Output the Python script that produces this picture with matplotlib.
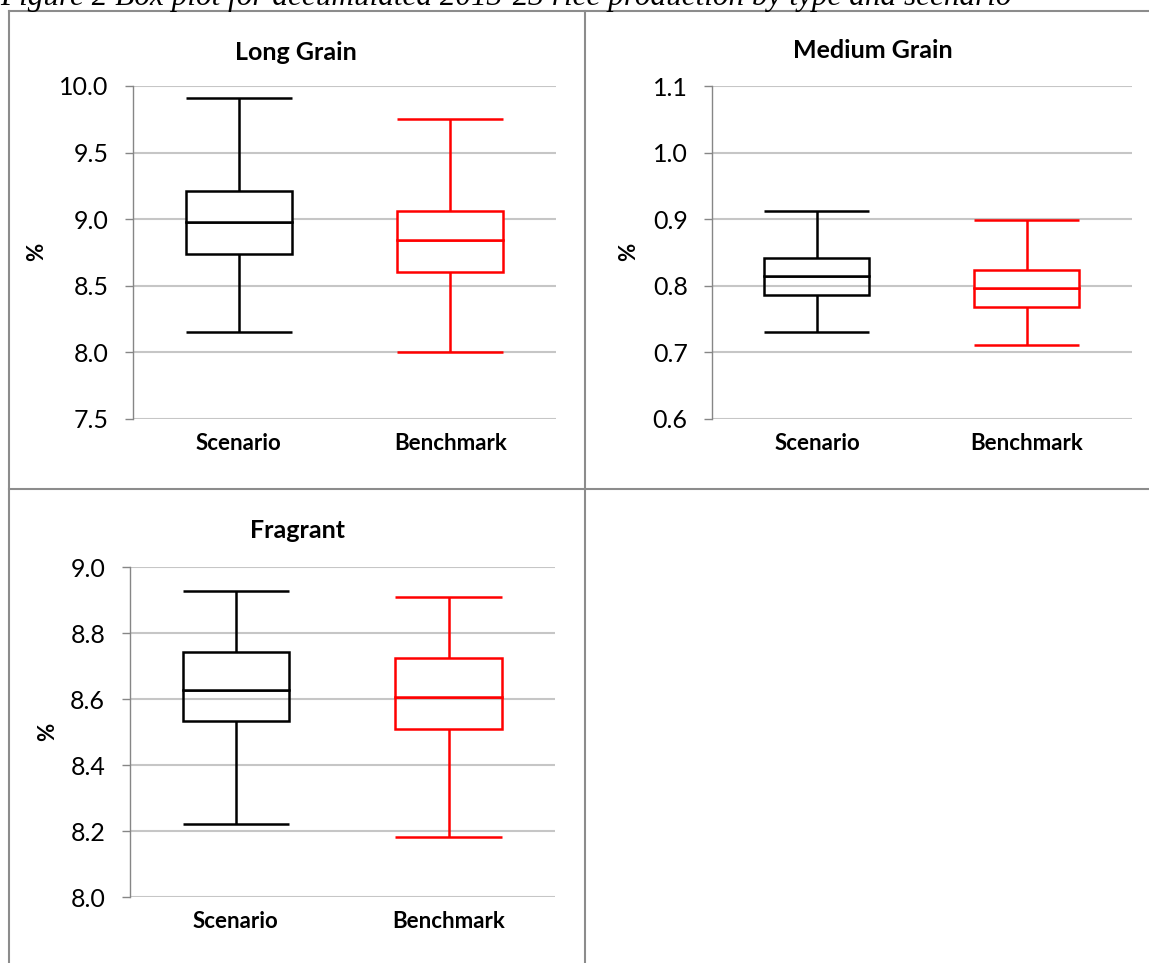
import matplotlib
matplotlib.use("Agg")
from matplotlib import pyplot as plt
from matplotlib.lines import Line2D
import numpy as np

plt.rcParams['font.family'] = ['Lato', 'DejaVu Sans']

# 数据：每种大米的箱线图五数概括（最小, Q1, 中位数, Q3, 最大）
categories = ['Scenario', 'Benchmark']
colors = ['black', '#FF0000']

long_min = [8.155, 8.005]
long_q1 = [8.74, 8.60]
long_med = [8.98, 8.845]
long_q3 = [9.21, 9.062]
long_max = [9.912, 9.755]

medium_min = [0.730, 0.711]
medium_q1 = [0.786, 0.7675]
medium_med = [0.814, 0.797]
medium_q3 = [0.8415, 0.824]
medium_max = [0.912, 0.8995]

fragrant_min = [8.2215, 8.182]
fragrant_q1 = [8.532, 8.509]
fragrant_med = [8.627, 8.605]
fragrant_q3 = [8.742, 8.723]
fragrant_max = [8.9265, 8.908]

W, H = 1149, 963
fig = plt.figure(figsize=(W / 100, H / 100), dpi=100)


def px_axes(x0, y0, x1, y1):
    # 像素坐标 -> figure 比例
    return fig.add_axes([x0 / W, 1 - y1 / H, (x1 - x0) / W, (y1 - y0) / H])


def draw_box(ax, mins, q1, med, q3, maxs, ylim, yticks, fmt):
    pos = np.arange(len(categories))
    bw = 0.5
    lw = 1.8
    for i, c in enumerate(colors):
        # 下半箱（无填充）+ 上半箱（白色填充），模仿 Excel 堆积柱
        ax.bar(pos[i], med[i] - q1[i], bottom=q1[i], width=bw, fill=False,
               edgecolor=c, linewidth=lw, zorder=3)
        ax.bar(pos[i], q3[i] - med[i], bottom=med[i], width=bw, facecolor='white',
               edgecolor=c, linewidth=lw, zorder=3)
        ax.vlines([pos[i], pos[i]], [q3[i], mins[i]], [maxs[i], q1[i]], colors=c,
                  linewidth=lw, zorder=2.5)
        ax.hlines([mins[i], maxs[i]], pos[i] - bw / 2, pos[i] + bw / 2, colors=c,
                  linewidth=lw, zorder=3)
    ax.set_xlim(-0.5, len(categories) - 0.5)
    ax.set_ylim(*ylim)
    ax.set_yticks(yticks)
    ax.set_yticklabels([fmt.format(v) for v in yticks], fontsize=18)
    ax.set_xticks(pos)
    ax.set_xticklabels(categories, fontsize=16, fontweight='bold')
    ax.tick_params(axis='x', length=0, pad=10)
    ax.tick_params(axis='y', direction='out', length=5.5, width=1, color='#868686', pad=12)
    ax.grid(True, axis='y', color='#C6C6C6', linewidth=1.5, zorder=0)
    ax.set_axisbelow(True)
    for s in ['top', 'right', 'bottom']:
        ax.spines[s].set_visible(False)
    ax.spines['left'].set_color('#868686')
    ax.spines['left'].set_linewidth(1.0)


ax1 = px_axes(133, 86, 556, 419)
draw_box(ax1, long_min, long_q1, long_med, long_q3, long_max,
         (7.5, 10.0), np.arange(7.5, 10.01, 0.5), '{:.1f}')
fig.text(296 / W, 1 - 52 / H, 'Long Grain', ha='center', va='center', fontsize=18, fontweight='bold')
fig.text(37 / W, 1 - 252 / H, '%', ha='center', va='center', rotation=90, fontsize=16, fontweight='bold')

ax2 = px_axes(712, 86, 1132, 419)
draw_box(ax2, medium_min, medium_q1, medium_med, medium_q3, medium_max,
         (0.6, 1.1), np.arange(0.6, 1.101, 0.1), '{:.1f}')
fig.text(873 / W, 1 - 50 / H, 'Medium Grain', ha='center', va='center', fontsize=18, fontweight='bold')
fig.text(629 / W, 1 - 252 / H, '%', ha='center', va='center', rotation=90, fontsize=16, fontweight='bold')

ax3 = px_axes(129.5, 567, 555, 897)
draw_box(ax3, fragrant_min, fragrant_q1, fragrant_med, fragrant_q3, fragrant_max,
         (8.0, 9.0), np.arange(8.0, 9.001, 0.2), '{:.1f}')
fig.text(297 / W, 1 - 530 / H, 'Fragrant', ha='center', va='center', fontsize=18, fontweight='bold')
fig.text(48 / W, 1 - 732 / H, '%', ha='center', va='center', rotation=90, fontsize=16, fontweight='bold')

# 表格边框
border = dict(color='#8C8C8C', linewidth=1.5, transform=fig.transFigure)
fig.add_artist(Line2D([9 / W, 1], [1 - 10.7 / H] * 2, **border))
fig.add_artist(Line2D([9 / W] * 2, [0, 1 - 10.7 / H], **border))
fig.add_artist(Line2D([585 / W] * 2, [0, 1 - 10.7 / H], **border))
fig.add_artist(Line2D([9 / W, 1], [1 - 489 / H] * 2, **border))

# 图题（上半部分被裁掉，与原图一致）
fig.text(0.0, 1 - 5 / H, 'Figure 2 Box plot for accumulated 2013-23 rice production by type and scenario',
         ha='left', va='baseline', fontsize=22.5, style='italic', family='Liberation Serif')

plt.savefig('out.png', dpi=100)
